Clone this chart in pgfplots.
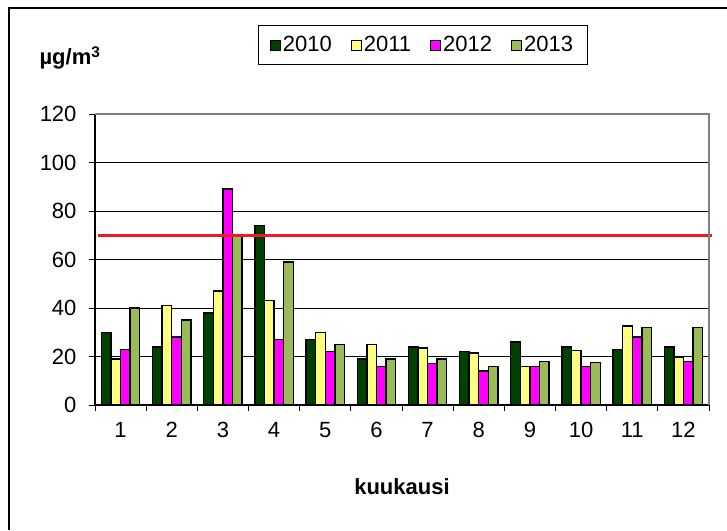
\documentclass[border=0pt]{standalone}
\usepackage{fontspec}
\setmainfont{Liberation Sans}
\usepackage{pgfplots}
\pgfplotsset{compat=1.18}
\definecolor{c2010}{RGB}{0,64,0}
\definecolor{c2011}{RGB}{255,255,128}
\definecolor{c2012}{RGB}{255,0,255}
\definecolor{c2013}{RGB}{155,187,89}
\definecolor{limred}{RGB}{237,28,36}
\begin{document}
\begin{tikzpicture}[x=1pt,y=1pt]
\useasboundingbox (0,0) rectangle (727,530);
\fill[white] (0,0) rectangle (727,530);
\draw[line width=1.5pt] (9,0) -- (9,522) -- (727,522);
\begin{axis}[
  at={(95pt,125pt)}, anchor=south west,
  scale only axis, width=614pt, height=291pt,
  xmin=0.5, xmax=12.5, ymin=0, ymax=120,
  xtick={1,...,12}, ytick={0,20,...,120},
  minor xtick={0.5,1.5,...,12.5},
  major x tick style={draw=none},
  minor x tick style={black, line width=0.8pt},
  y tick style={black, line width=0.8pt},
  tick align=outside, major tick length=6pt, minor tick length=6pt,
  xtick pos=bottom, ytick pos=left,
  axis x line*=bottom, axis y line*=left,
  axis line style={black, line width=1.5pt, -},
  ymajorgrids, major grid style={black, line width=0.8pt},
  /pgf/number format/assume math mode=true,
  tick label style={font=\fontsize{22}{26}\selectfont},
  yticklabel style={xshift=-9pt},
  xticklabel style={yshift=-8pt},
  xlabel={kuukausi},
  xlabel style={font=\bfseries\fontsize{22}{26}\selectfont, at={(axis description cs:0.5,0)}, anchor=center, yshift=-82pt},
  legend columns=4,
  legend style={at={(axis description cs:0.5334,1.237)}, anchor=center, draw=black, line width=0.8pt,
    font=\fontsize{22}{26}\selectfont, inner xsep=12pt, inner ysep=9pt,
    /tikz/every even column/.append style={column sep=17pt}},
  legend image code/.code={\draw[#1, line width=1pt] (0pt,-5pt) rectangle (10pt,5pt);},
  clip=false,
]
\addplot[ybar, bar width=9.6pt, bar shift=-14.4pt, fill=c2010, draw=black, line width=1.4pt]
  coordinates {(1,30) (2,24) (3,38) (4,74) (5,27) (6,19) (7,24) (8,22) (9,26) (10,24) (11,23) (12,24)};
\addplot[ybar, bar width=9.6pt, bar shift=-4.8pt, fill=c2011, draw=black, line width=1.4pt]
  coordinates {(1,19) (2,41) (3,47) (4,43) (5,30) (6,25) (7,23.5) (8,21.5) (9,16) (10,22.5) (11,32.5) (12,19.5)};
\addplot[ybar, bar width=9.6pt, bar shift=4.8pt, fill=c2012, draw=black, line width=1.4pt]
  coordinates {(1,23) (2,28) (3,89) (4,27) (5,22) (6,16) (7,17) (8,14) (9,16) (10,16) (11,28) (12,18)};
\addplot[ybar, bar width=9.6pt, bar shift=14.4pt, fill=c2013, draw=black, line width=1.4pt]
  coordinates {(1,40) (2,35) (3,70) (4,59) (5,25) (6,19) (7,19) (8,16) (9,18) (10,17.5) (11,32) (12,32)};
\legend{2010,2011,2012,2013}
\addplot[sharp plot, limred, line width=2.6pt, forget plot] coordinates {(0.55,70) (12.55,70)};
\draw[gray, line width=1.5pt] (rel axis cs:0,1) -- (rel axis cs:1,1) -- (rel axis cs:1,0);
\end{axis}
\node[font=\bfseries\fontsize{22}{26}\selectfont] at (70,472) {µg/m\textsuperscript{3}};
\end{tikzpicture}
\end{document}
